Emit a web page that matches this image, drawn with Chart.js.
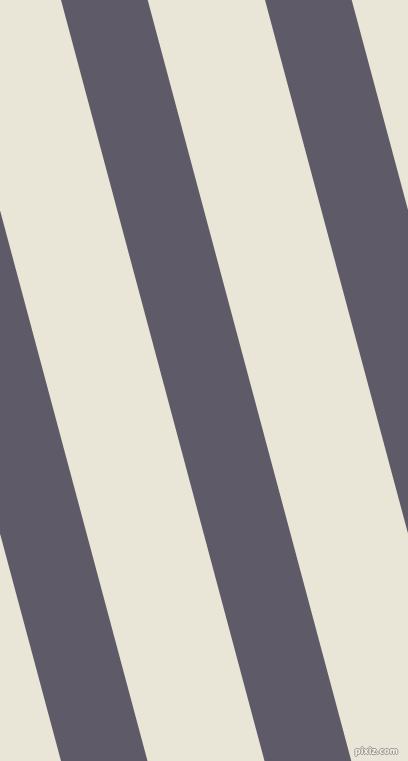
<!DOCTYPE html>
<html>
<head>
<meta charset="utf-8">
<script src="https://cdn.jsdelivr.net/npm/chart.js@4"></script>
<style>
  html, body { margin: 0; padding: 0; background: #e9e5d7; overflow: hidden; }
  #wrap { position: relative; width: 408px; height: 761px; }
  #mark {
    position: absolute; right: 10px; bottom: 5px;
    font: bold 9px "Liberation Sans Narrow", "DejaVu Sans Condensed", sans-serif;
    color: #f4f2ea;
    text-shadow: -1px 0 #9a978f, 1px 0 #9a978f, 0 -1px #9a978f, 0 1px #9a978f;
  }
</style>
</head>
<body>
<div id="wrap">
  <canvas id="stripes"></canvas>
  <div id="mark">pixiz.com</div>
</div>
<script>
// stripe corners (x at top edge y=0 and bottom edge y=761)
const topLeft = [-143, 61, 265];
const topRight = [-56.3, 147.7, 351.7];
const bottomLeft = [61, 264.5, 469];
const bottomRight = [147.5, 351.3, 555.7];
const yTop = 0;
const yBottom = 761;

const stripeColor = '#5e5a68';

const datasets = topLeft.map((_, i) => ({
  data: [
    { x: topLeft[i], y: yTop },
    { x: topRight[i], y: yTop },
    { x: bottomRight[i], y: yBottom },
    { x: bottomLeft[i], y: yBottom },
    { x: topLeft[i], y: yTop }
  ],
  showLine: true,
  fill: 'shape',
  backgroundColor: stripeColor,
  borderColor: stripeColor,
  borderWidth: 0,
  pointRadius: 0,
  tension: 0
}));

const ctx = document.getElementById('stripes').getContext('2d');

const stripesChart = new Chart(ctx, {
  type: 'scatter',
  data: { datasets },
  options: {
    responsive: true,
    maintainAspectRatio: false,
    animation: false,
    layout: { padding: 0 },
    plugins: {
      legend: { display: false },
      tooltip: { enabled: false }
    },
    scales: {
      x: { type: 'linear', min: 0, max: 408, display: false },
      y: { type: 'linear', min: 0, max: 761, reverse: true, display: false }
    }
  }
});
</script>
</body>
</html>
